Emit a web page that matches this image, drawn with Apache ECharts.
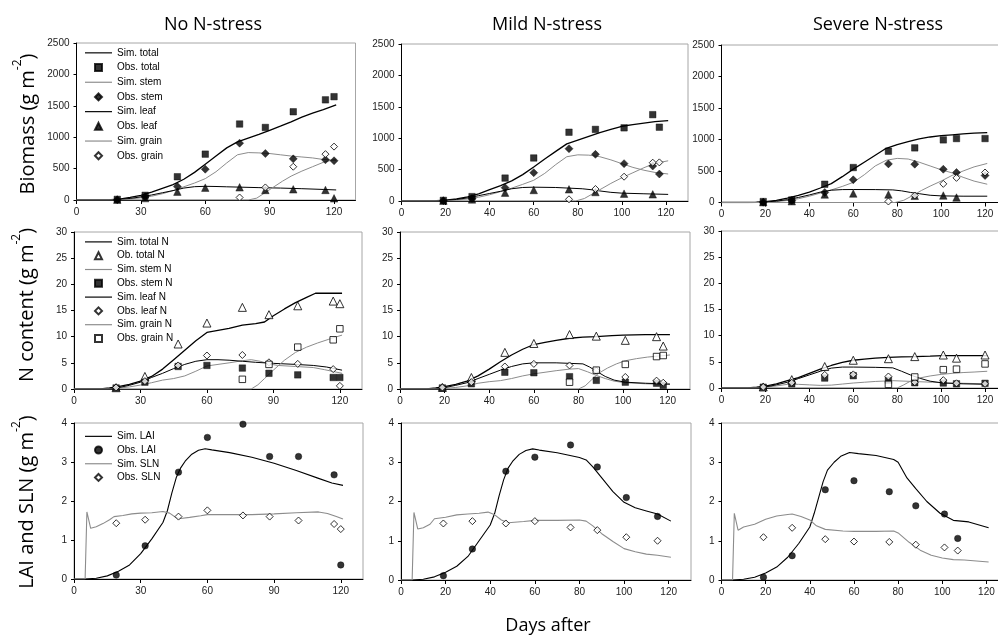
<!DOCTYPE html>
<html><head><meta charset="utf-8">
<script src="https://cdn.jsdelivr.net/npm/echarts@6/dist/echarts.min.js"></script>
<style>html,body{margin:0;padding:0;background:#fff}#c{width:998px;height:636px}</style>
</head><body><div id="c"></div>
<script>
// ---------- column titles / axis texts ----------
const colTitles = ['No N-stress', 'Mild N-stress', 'Severe N-stress'];
const xTitle = 'Days after';
const xTicksCol1 = [0, 30, 60, 90, 120];
const xTicksCol23 = [0, 20, 40, 60, 80, 100, 120];

// ---------- legend names ----------
const bioNames = ['Sim. total','Obs. total','Sim. stem','Obs. stem','Sim. leaf','Obs. leaf','Sim. grain','Obs. grain'];
const nNames = ['Sim. total N','Ob. total N','Sim. stem N','Obs. stem N','Sim. leaf N','Obs. leaf N','Sim. grain N','Obs. grain N'];
const laiNames = ['Sim. LAI','Obs. LAI','Sim. SLN','Obs. SLN'];

// ---------- observation days ----------
const daysNo = [19,32,47,60,76,88,101,116,120];
const daysNoGrain = [76,88,101,116,120];
const daysMild = [19,32,47,60,76,88,101,114,117];
const daysMildLeaf = [19,32,47,60,76,88,101,114];
const daysMildGrain = [76,88,101,114,117];
const daysSev = [19,32,47,60,76,88,101,107,120];
const daysSevLeaf = [19,32,47,60,76,88,101,107];
const daysSevGrain = [76,88,101,107,120];

const daysNoN = [19,32,47,60,76,88,101,117,120];
const daysNoNGrain = [76,88,101,117,120];
const daysMildN = [19,32,47,60,76,88,101,115,118];
const daysMildNGrain = [76,88,101,115,118];
const daysSevN = [19,32,47,60,76,88,101,107,120];
const daysSevNGrain = [76,88,101,107,120];

const daysNoL = [19,32,47,60,76,88,101,117,120];
const daysMildL = [19,32,47,60,76,88,101,115];
const daysSevL = [19,32,47,60,76,88,101,107];

// ---------- Biomass observations ----------
const obsTotalNo = [10,75,370,730,1210,1155,1405,1595,1645];
const obsStemNo = [5,50,213,490,905,740,655,640,625];
const obsLeafNo = [5,30,133,197,202,160,170,160,27];
const obsGrainNo = [40,200,530,730,850];

const obsTotalMild = [10,70,365,685,1095,1140,1165,1375,1175];
const obsStemMild = [5,40,212,451,833,743,595,557,430];
const obsLeafMild = [5,25,133,175,186,143,117,106];
const obsGrainMild = [27,191,387,610,615];

const obsTotalSev = [15,40,290,555,814,867,994,1015,1015];
const obsStemSev = [5,30,159,360,613,608,528,476,428];
const obsLeafSev = [5,20,127,143,127,106,111,79];
const obsGrainSev = [16,111,296,391,476];

// ---------- Biomass simulations [day, value] ----------
const simTotalNo = [[0,0],[12,0],[16,4],[20,15],[25,40],[30,75],[35,125],[40,185],[45,245],[50,330],[55,440],[60,570],[65,700],[70,830],[75,925],[80,985],[85,1045],[90,1110],[95,1175],[100,1245],[105,1320],[110,1385],[115,1440],[121,1515]];
const simStemNo = [[0,0],[15,0],[20,5],[25,15],[30,35],[35,60],[40,100],[45,150],[50,210],[55,270],[60,340],[65,450],[70,590],[75,720],[80,755],[85,750],[90,740],[95,720],[100,700],[105,685],[110,670],[115,645],[121,630]];
const simLeafNo = [[0,0],[15,0],[20,8],[25,25],[30,50],[35,80],[40,115],[45,150],[50,190],[55,212],[60,218],[65,215],[70,210],[76,205],[85,197],[95,190],[105,180],[115,168],[121,160]];
const simGrainNo = [[0,0],[80,0],[84,30],[88,120],[92,210],[96,300],[100,380],[105,460],[110,530],[115,600],[121,650]];

const simTotalMild = [[0,0],[12,0],[16,4],[20,12],[25,35],[30,65],[35,115],[40,180],[45,245],[50,320],[55,420],[60,540],[65,670],[70,790],[75,910],[80,970],[85,1030],[90,1090],[95,1140],[100,1190],[105,1215],[110,1240],[115,1265],[121,1280]];
const simStemMild = [[0,0],[15,0],[20,5],[25,15],[30,32],[35,60],[40,100],[45,150],[50,205],[55,265],[60,330],[65,440],[70,580],[75,705],[80,735],[85,730],[90,705],[95,655],[100,595],[105,535],[110,490],[115,455],[121,430]];
const simLeafMild = [[0,0],[15,0],[20,8],[25,25],[30,50],[35,85],[40,120],[45,155],[50,195],[55,215],[60,220],[70,215],[76,205],[82,195],[86,180],[90,160],[95,138],[100,125],[110,115],[121,105]];
const simGrainMild = [[0,0],[79,0],[83,40],[87,120],[91,200],[95,280],[100,370],[105,450],[110,530],[115,600],[121,640]];

const simTotalSev = [[0,0],[12,0],[16,4],[20,12],[25,35],[30,70],[35,115],[40,165],[45,230],[50,300],[55,410],[60,530],[65,640],[70,750],[75,860],[80,920],[85,965],[90,1010],[95,1040],[100,1060],[105,1075],[110,1090],[115,1100],[121,1110]];
const simStemSev = [[0,0],[15,0],[20,5],[25,15],[30,32],[35,60],[40,100],[45,150],[50,200],[55,255],[60,320],[65,440],[70,580],[75,670],[80,700],[85,690],[90,640],[95,580],[100,520],[105,470],[110,400],[115,340],[121,290]];
const simLeafSev = [[0,0],[15,0],[20,8],[25,22],[30,45],[35,80],[40,120],[45,165],[50,195],[55,205],[60,206],[70,205],[78,200],[82,185],[86,160],[90,140],[95,115],[100,105],[110,100],[121,100]];
const simGrainSev = [[0,0],[79,0],[83,35],[87,110],[91,190],[95,260],[100,340],[105,430],[110,500],[115,565],[121,620]];

// ---------- N content observations ----------
const obsTotNNo = [0.25,2.4,8.6,12.6,15.6,14.2,15.9,16.8,16.3];
const obsStemNNo = [0.2,1.3,4.3,4.5,4.0,3.0,2.7,2.2,2.2];
const obsLeafNNo = [0.3,1.5,4.5,6.4,6.5,5.1,4.8,3.8,0.6];
const obsGrainNNo = [1.85,4.7,8.0,9.4,11.5];

const obsTotNMild = [0.3,2.2,7.0,8.7,10.4,10.1,9.3,10.0,8.2];
const obsStemNMild = [0.2,1.0,3.2,3.1,2.35,1.65,1.3,1.1,0.7];
const obsLeafNMild = [0.3,1.3,4.3,4.8,4.5,3.5,2.3,1.6,1.2];
const obsGrainNMild = [1.3,3.6,4.7,6.2,6.4];

const obsTotNSev = [0.2,1.6,4.1,5.3,5.6,6.0,6.3,5.7,6.3];
const obsStemNSev = [0.15,0.8,1.9,2.35,1.5,1.0,0.95,0.8,0.9];
const obsLeafNSev = [0.2,1.0,2.5,2.6,2.2,1.1,1.5,0.9,0.8];
const obsGrainNSev = [0.7,2.1,3.5,3.6,4.6];

// ---------- N content simulations ----------
const simTotNNo = [[0,0],[12,0],[16,0.2],[20,0.45],[25,0.9],[30,1.5],[35,2.4],[40,3.8],[45,5.6],[50,7.4],[55,9.2],[60,10.8],[65,11.2],[70,11.6],[76,12.2],[82,12.5],[86,12.8],[90,14.0],[95,15.3],[100,16.5],[105,17.5],[109,18.3],[121,18.3]];
const simStemNNo = [[0,0],[15,0],[20,0.15],[25,0.4],[30,0.75],[35,1.2],[40,1.7],[45,2.0],[50,2.5],[55,3.4],[60,4.4],[65,4.7],[70,5.0],[76,5.4],[80,5.6],[84,5.3],[88,4.8],[92,4.5],[100,4.3],[108,4.1],[113,3.7],[121,3.0]];
const simLeafNNo = [[0,0],[15,0],[20,0.25],[25,0.7],[30,1.3],[35,2.2],[40,3.0],[45,3.9],[50,4.7],[55,5.3],[60,5.6],[65,5.6],[70,5.5],[76,5.3],[82,5.1],[90,4.9],[100,4.7],[108,4.5],[114,4.2],[121,3.6]];
const simGrainNNo = [[0,0],[80,0],[83,0.8],[86,2.0],[90,3.6],[95,5.5],[100,7.0],[105,8.0],[110,8.8],[115,9.5],[121,10.3]];

const simTotNMild = [[0,0],[12,0],[16,0.2],[20,0.45],[25,0.9],[30,1.5],[35,2.5],[40,3.8],[45,5.2],[50,6.5],[55,7.6],[60,8.5],[65,8.9],[70,9.3],[76,9.7],[82,9.9],[88,10.0],[95,10.2],[100,10.3],[110,10.4],[121,10.4]];
const simStemNMild = [[0,0],[15,0],[20,0.1],[25,0.3],[30,0.6],[35,1.1],[40,1.4],[45,1.6],[50,2.0],[55,2.5],[60,2.9],[65,3.2],[70,3.5],[76,3.8],[80,3.9],[84,3.3],[88,2.6],[92,2.0],[96,1.5],[101,1.2],[110,1.0],[121,0.85]];
const simLeafNMild = [[0,0],[15,0],[20,0.25],[25,0.7],[30,1.2],[35,2.0],[40,2.8],[45,3.6],[50,4.3],[55,4.8],[60,5.0],[70,5.0],[76,4.9],[82,4.8],[85,4.2],[88,3.4],[92,2.4],[96,1.7],[101,1.3],[110,1.1],[121,0.95]];
const simGrainNMild = [[0,0],[80,0],[83,0.6],[86,1.8],[89,3.0],[93,4.0],[97,4.8],[101,5.4],[106,5.8],[111,6.1],[116,6.3],[121,6.5]];

const simTotNSev = [[0,0],[12,0],[16,0.15],[20,0.35],[25,0.8],[30,1.4],[35,2.0],[40,2.8],[45,3.6],[50,4.3],[55,4.9],[60,5.3],[65,5.5],[70,5.7],[76,5.85],[82,5.95],[88,6.0],[95,6.1],[101,6.2],[110,6.2],[121,6.2]];
const simStemNSev = [[0,0],[15,0],[20,0.15],[25,0.4],[30,0.7],[35,0.7],[40,0.6],[45,0.5],[50,0.55],[55,0.75],[60,0.95],[65,1.1],[70,1.25],[78,1.4],[84,1.3],[90,1.2],[96,1.1],[101,1.0],[110,0.9],[121,0.8]];
const simLeafNSev = [[0,0],[15,0],[20,0.2],[25,0.6],[30,1.1],[35,1.8],[40,2.5],[45,3.2],[50,3.8],[55,4.0],[60,4.0],[70,3.95],[78,3.85],[82,3.2],[86,2.5],[90,1.9],[95,1.3],[101,0.95],[110,0.8],[121,0.7]];
const simGrainNSev = [[0,0],[80,0],[83,0.6],[86,1.3],[90,1.9],[95,2.3],[100,2.6],[105,2.8],[110,2.95],[115,3.05],[121,3.2]];

// ---------- LAI / SLN observations ----------
const obsLAINo = [0.1,0.85,2.74,3.63,3.97,3.14,3.14,2.67,0.36];
const obsSLNNo = [1.43,1.52,1.6,1.76,1.63,1.6,1.5,1.41,1.28];
const obsLAIMild = [0.11,0.79,2.77,3.13,3.44,2.88,2.1,1.62];
const obsSLNMild = [1.44,1.5,1.44,1.5,1.34,1.27,1.09,1.0];
const obsLAISev = [0.07,0.62,2.3,2.53,2.25,1.89,1.68,1.06];
const obsSLNSev = [1.09,1.33,1.04,0.98,0.97,0.9,0.83,0.75];

// ---------- LAI / SLN simulations ----------
const simLAINo = [[0,0],[5,0],[10,0.02],[15,0.08],[20,0.2],[25,0.36],[30,0.65],[35,1.03],[40,1.45],[42,1.75],[44,2.2],[46,2.6],[48,2.85],[50,3.02],[53,3.2],[56,3.3],[59,3.34],[62,3.31],[70,3.24],[80,3.12],[90,2.97],[100,2.78],[110,2.58],[116,2.46],[121,2.4]];
const simSLNNo = [[0,0],[5,0],[5.8,1.72],[7.5,1.3],[10,1.34],[13,1.42],[16,1.52],[18,1.6],[22,1.63],[26,1.67],[30,1.69],[35,1.7],[40,1.73],[43,1.69],[46,1.57],[48,1.55],[52,1.58],[57,1.62],[60,1.65],[70,1.65],[80,1.65],[90,1.67],[100,1.7],[110,1.72],[114,1.68],[118,1.6],[121,1.54]];
const simLAIMild = [[0,0],[5,0],[10,0.02],[15,0.08],[20,0.2],[25,0.35],[30,0.6],[35,1.0],[40,1.4],[42,1.7],[44,2.15],[46,2.55],[48,2.85],[50,3.02],[53,3.2],[56,3.3],[59,3.34],[62,3.31],[70,3.24],[80,3.12],[83,3.06],[86,2.88],[90,2.6],[95,2.25],[100,1.98],[105,1.84],[110,1.76],[115,1.68],[121,1.5]];
const simSLNMild = [[0,0],[5,0],[5.8,1.72],[7.5,1.3],[10,1.33],[13,1.42],[15,1.56],[20,1.6],[25,1.66],[30,1.68],[35,1.7],[39,1.73],[42,1.66],[45,1.53],[48,1.46],[55,1.49],[60,1.52],[70,1.52],[80,1.53],[83,1.5],[86,1.38],[90,1.18],[95,0.98],[100,0.8],[105,0.72],[110,0.66],[115,0.63],[121,0.58]];
const simLAISev = [[0,0],[5,0],[10,0.02],[15,0.07],[20,0.18],[25,0.33],[30,0.58],[35,0.93],[40,1.35],[42,1.7],[44,2.1],[46,2.5],[48,2.8],[51,3.0],[54,3.15],[58,3.25],[62,3.22],[70,3.17],[78,3.07],[80,3.0],[84,2.6],[88,2.33],[93,2.0],[99,1.7],[105,1.52],[112,1.48],[121,1.33]];
const simSLNSev = [[0,0],[5,0],[5.8,1.7],[7.5,1.27],[10,1.35],[15,1.42],[20,1.55],[25,1.63],[30,1.67],[32,1.68],[36,1.62],[40,1.53],[43,1.38],[47,1.29],[55,1.25],[60,1.24],[70,1.24],[78,1.25],[80,1.2],[85,0.96],[90,0.76],[95,0.63],[100,0.56],[105,0.52],[110,0.51],[121,0.46]];

// ================= build chart =================
const BLACK = '#000000', GRAY = '#8c8c8c';
const NUMFONT = '"Liberation Sans", Arial, sans-serif';
const TXTFONT = '"Open Sans", "Noto Sans", sans-serif';
const ICONS = {
  line: 'path://M0,0L30,0L30,1.3L0,1.3Z',
  rect: 'path://M0,0L10,0L10,10L0,10Z',
  diamond: 'path://M5,0L10,5L5,10L0,5Z',
  triangle: 'path://M5,0L10,10L0,10Z',
  circle: 'path://M0,5A5,5,0,1,0,10,5A5,5,0,1,0,0,5Z'
};

// grid boxes: [left, top, width, height]
const boxes = [
  [76.5, 43, 279, 157], [401.5, 44, 286.5, 157], [721.5, 45, 285.5, 157.5],
  [74, 232, 288, 157], [400, 232, 290, 157], [721.5, 231, 285.5, 157],
  [74, 423, 289, 156], [401, 423, 290, 157], [721.5, 423, 287, 157]
];
const yRanges = [[2500, 500], [30, 5], [4, 1]];

const grids = [], xAxes = [], yAxes = [];
boxes.forEach((b, i) => {
  const row = Math.floor(i / 3), col = i % 3;
  grids.push({left: b[0], top: b[1], width: b[2], height: b[3], show: true,
    borderColor: '#a6a6a6', borderWidth: 1, backgroundColor: 'transparent',
    containLabel: false, outerBoundsMode: 'none'});
  const ticks = col === 0 ? xTicksCol1 : xTicksCol23;
  xAxes.push({type: 'value', gridIndex: i, min: 0, max: 130, interval: col === 0 ? 30 : 20,
    axisLine: {show: true, onZero: false, lineStyle: {color: BLACK, width: 1}},
    axisTick: {show: true, inside: false, length: 4, lineStyle: {color: BLACK}, customValues: ticks},
    axisLabel: {show: true, customValues: ticks, fontSize: 10, color: '#222', fontFamily: NUMFONT, margin: 7,
      formatter: v => (v <= 120 ? String(v) : '')},
    splitLine: {show: false}});
  yAxes.push({type: 'value', gridIndex: i, min: 0, max: yRanges[row][0], interval: yRanges[row][1],
    axisLine: {show: true, onZero: false, lineStyle: {color: BLACK, width: 1}},
    axisTick: {show: true, inside: false, length: 3, lineStyle: {color: BLACK}},
    axisLabel: {show: true, fontSize: 10, color: '#222', fontFamily: NUMFONT, margin: 7,
      formatter: v => String(v)},
    splitLine: {show: false}});
});

const series = [];
const legendIcons = {};
function simLine(name, data, g, color, width) {
  legendIcons[name] = ICONS.line;
  series.push({type: 'line', name, data, xAxisIndex: g, yAxisIndex: g, symbol: 'none',
    smooth: false, lineStyle: {color, width}, itemStyle: {color}, silent: true, z: 2});
}
function obs(name, days, vals, g, symbol, filled, size) {
  legendIcons[name] = ICONS[symbol];
  series.push({type: 'scatter', name, data: days.map((d, k) => [d, vals[k]]),
    xAxisIndex: g, yAxisIndex: g, symbol, symbolSize: size, silent: true, z: 5,
    itemStyle: filled ? {color: BLACK, borderColor: BLACK, borderWidth: 0.5}
                      : {color: '#ffffff', borderColor: BLACK, borderWidth: 1}});
}

// Biomass row
const bioSets = [
  [simTotalNo, obsTotalNo, simStemNo, obsStemNo, simLeafNo, obsLeafNo, simGrainNo, obsGrainNo, daysNo, daysNo, daysNoGrain],
  [simTotalMild, obsTotalMild, simStemMild, obsStemMild, simLeafMild, obsLeafMild, simGrainMild, obsGrainMild, daysMild, daysMildLeaf, daysMildGrain],
  [simTotalSev, obsTotalSev, simStemSev, obsStemSev, simLeafSev, obsLeafSev, simGrainSev, obsGrainSev, daysSev, daysSevLeaf, daysSevGrain]
];
bioSets.forEach((s, c) => {
  const g = c;
  simLine(bioNames[0], s[0], g, BLACK, 1.3);
  simLine(bioNames[2], s[2], g, GRAY, 1);
  simLine(bioNames[4], s[4], g, BLACK, 1);
  simLine(bioNames[6], s[6], g, GRAY, 1);
  obs(bioNames[1], s[8], s[1], g, 'rect', true, 6.5);
  obs(bioNames[3], s[8], s[3], g, 'diamond', true, 8);
  obs(bioNames[5], s[9], s[5], g, 'triangle', true, 7.5);
  obs(bioNames[7], s[10], s[7], g, 'diamond', false, 7);
});

// N content row
const nSets = [
  [simTotNNo, obsTotNNo, simStemNNo, obsStemNNo, simLeafNNo, obsLeafNNo, simGrainNNo, obsGrainNNo, daysNoN, daysNoNGrain],
  [simTotNMild, obsTotNMild, simStemNMild, obsStemNMild, simLeafNMild, obsLeafNMild, simGrainNMild, obsGrainNMild, daysMildN, daysMildNGrain],
  [simTotNSev, obsTotNSev, simStemNSev, obsStemNSev, simLeafNSev, obsLeafNSev, simGrainNSev, obsGrainNSev, daysSevN, daysSevNGrain]
];
nSets.forEach((s, c) => {
  const g = 3 + c;
  simLine(nNames[0], s[0], g, BLACK, 1.3);
  simLine(nNames[2], s[2], g, GRAY, 1);
  simLine(nNames[4], s[4], g, BLACK, 1);
  simLine(nNames[6], s[6], g, GRAY, 1);
  obs(nNames[1], s[8], s[1], g, 'triangle', false, 8);
  obs(nNames[3], s[8], s[3], g, 'rect', true, 6.5);
  obs(nNames[5], s[8], s[5], g, 'diamond', false, 7);
  obs(nNames[7], s[9], s[7], g, 'rect', false, 6.5);
});

// LAI / SLN row
const laiSets = [
  [simLAINo, obsLAINo, simSLNNo, obsSLNNo, daysNoL],
  [simLAIMild, obsLAIMild, simSLNMild, obsSLNMild, daysMildL],
  [simLAISev, obsLAISev, simSLNSev, obsSLNSev, daysSevL]
];
laiSets.forEach((s, c) => {
  const g = 6 + c;
  simLine(laiNames[0], s[0], g, BLACK, 1.1);
  simLine(laiNames[2], s[2], g, GRAY, 1.1);
  obs(laiNames[1], s[4], s[1], g, 'circle', true, 6.5);
  obs(laiNames[3], s[4], s[3], g, 'diamond', false, 7);
});

function legendFor(names, top, lh) {
  return {show: true, orient: 'vertical', left: 85, top, itemWidth: 27, itemHeight: 7, itemGap: 0,
    selectedMode: false, padding: 0, symbolKeepAspect: true,
    data: names.map(n => ({name: n, icon: legendIcons[n]})),
    textStyle: {fontSize: 10, fontFamily: NUMFONT, color: '#000', lineHeight: lh}};
}

function yName(txt, x, y) {
  return {type: 'text', x, y, rotation: Math.PI / 2, silent: true,
    style: {text: '{a|' + txt + '}{s|-2}{a|)}', align: 'center', verticalAlign: 'middle',
      textAlign: 'center', textVerticalAlign: 'middle',
      rich: {a: {fontSize: 20, fontFamily: TXTFONT, color: '#000', lineHeight: 26, verticalAlign: 'bottom'},
             s: {fontSize: 12, fontFamily: TXTFONT, color: '#000', lineHeight: 26, verticalAlign: 'top'}}}};
}
function plainText(txt, x, y, size) {
  return {type: 'text', x, y, silent: true,
    style: {text: txt, fontSize: size, fontFamily: TXTFONT, fill: '#000',
      align: 'center', verticalAlign: 'middle', textAlign: 'center', textVerticalAlign: 'middle'}};
}

const chart = echarts.init(document.getElementById('c'), null, {renderer: 'canvas'});
chart.setOption({
  animation: false,
  backgroundColor: '#ffffff',
  grid: grids, xAxis: xAxes, yAxis: yAxes, series,
  legend: [legendFor(bioNames, 45.5, 14.7), legendFor(nNames, 235, 13.8), legendFor(laiNames, 429.5, 13.7)],
  graphic: [
    plainText(colTitles[0], 213, 25, 18),
    plainText(colTitles[1], 547, 25, 18),
    plainText(colTitles[2], 878, 25, 18),
    plainText(xTitle, 548, 626, 18),
    yName('Biomass (g m', 25, 124),
    yName('N content (g m', 24, 305),
    yName('LAI and SLN (g m', 24, 502)
  ]
});
</script></body></html>
